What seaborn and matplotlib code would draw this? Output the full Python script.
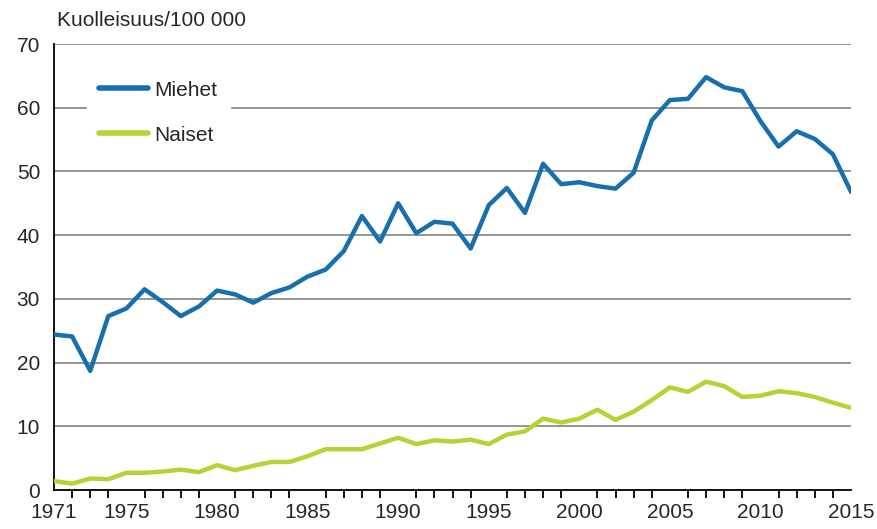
import numpy as np
import pandas as pd
import matplotlib
matplotlib.use("Agg")
import matplotlib.pyplot as plt
import seaborn as sns

years = list(range(1971, 2016))
miehet = [24.4, 24.1, 18.7, 27.3, 28.5, 31.5, 29.5, 27.3, 28.8, 31.3,
          30.7, 29.4, 30.9, 31.8, 33.5, 34.6, 37.5, 43.0, 39.0, 45.0,
          40.3, 42.1, 41.8, 37.9, 44.7, 47.4, 43.5, 51.2, 48.0, 48.3,
          47.7, 47.3, 49.8, 58.0, 61.2, 61.4, 64.8, 63.2, 62.6, 57.9,
          53.9, 56.3, 55.1, 52.7, 46.8]
naiset = [1.4, 1.0, 1.8, 1.7, 2.7, 2.7, 2.9, 3.2, 2.8, 3.9,
          3.1, 3.8, 4.4, 4.4, 5.3, 6.4, 6.4, 6.4, 7.3, 8.2,
          7.2, 7.8, 7.6, 7.9, 7.2, 8.7, 9.2, 11.2, 10.6, 11.2,
          12.6, 11.0, 12.3, 14.1, 16.1, 15.4, 17.0, 16.3, 14.6, 14.8,
          15.5, 15.2, 14.6, 13.7, 12.9]
series_names = ["Miehet", "Naiset"]
colors = ["#176FAE", "#B4D335"]
xtick_labels = [1971, 1975, 1980, 1985, 1990, 1995, 2000, 2005, 2010, 2015]
yticks = [0, 10, 20, 30, 40, 50, 60, 70]
ylabel = "Kuolleisuus/100 000"

df = pd.DataFrame({"Vuosi": years * 2,
                   "Arvo": miehet + naiset,
                   "Sukupuoli": [series_names[0]] * len(years) + [series_names[1]] * len(years)})

sns.set_style("white")
plt.rcParams["font.family"] = ["Liberation Sans", "DejaVu Sans"]

fig = plt.figure(figsize=(8.78, 5.29), dpi=100)
ax = fig.add_axes([54/878, 1-490/529, (851-54)/878, (490-44)/529])

sns.lineplot(data=df, x="Vuosi", y="Arvo", hue="Sukupuoli", palette=colors,
             linewidth=3.2, ax=ax, legend=True, zorder=3)

ax.set_xlim(1971, 2015)
ax.set_ylim(0, 70)
ax.set_yticks(yticks)
ax.set_xticks(xtick_labels)
ax.set_xticklabels([str(x) for x in xtick_labels])
ax.set_xticks(years, minor=True)
ax.set_xlabel("")
ax.set_ylabel("")
for y in yticks[1:]:
    ax.axhline(y, color="#8c8c8c", linewidth=1.3, zorder=1)

for s in ["top", "right"]:
    ax.spines[s].set_visible(False)
for s in ["left", "bottom"]:
    ax.spines[s].set_color("black")
    ax.spines[s].set_linewidth(1.3)
ax.tick_params(axis="both", which="both", direction="out", color="black",
               labelsize=15, width=1.3)
ax.tick_params(axis="y", length=6, pad=4)
ax.tick_params(axis="x", which="major", length=6, pad=3)
ax.tick_params(axis="x", which="minor", length=6, bottom=True)

leg = ax.legend(loc="upper left", bbox_to_anchor=(0.041, 0.946), frameon=True,
                fontsize=15, handlelength=2.35, labelspacing=1.25,
                handletextpad=0.3, borderpad=0.6, borderaxespad=0)
leg.get_frame().set_facecolor("white")
leg.get_frame().set_edgecolor("white")
leg.get_frame().set_alpha(1)
leg.set_zorder(5)
for line in leg.get_lines():
    line.set_linewidth(4)

fig.text(57/878, 1-21/529, ylabel, fontsize=15, va="center", ha="left")

fig.savefig("out.png", dpi=100, facecolor="white")
